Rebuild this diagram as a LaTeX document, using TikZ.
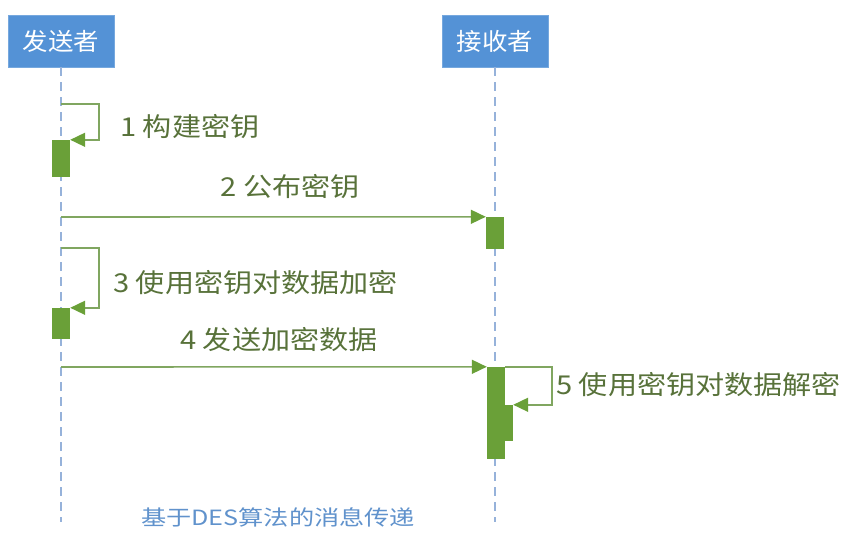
\documentclass[tikz,border=0pt]{standalone}
\usepackage{fontspec}
\setmainfont{Noto Sans CJK SC}
\newfontfamily\headfont{Noto Sans CJK SC}[FakeStretch=1.06]
\newfontfamily\msgfont{Noto Sans CJK SC}[FakeStretch=1.12]
\newfontfamily\capfont{Noto Sans CJK SC}[FakeStretch=1.2]
\usetikzlibrary{arrows.meta}
\definecolor{headblue}{RGB}{84,146,214}
\definecolor{lifeblue}{RGB}{150,178,218}
\definecolor{msggreen}{RGB}{128,166,96}
\definecolor{actgreen}{RGB}{106,160,56}
\definecolor{labelgreen}{RGB}{88,114,58}
\definecolor{capblue}{RGB}{96,146,204}

\begin{document}
\begin{tikzpicture}[x=1pt, y=-1pt,
    head/.style={fill=headblue, draw=headblue!80!white, minimum width=106pt, minimum height=52pt,
        text=white, font=\headfont\fontsize{24}{28}\selectfont},
    life/.style={lifeblue, line width=1.8pt, dash pattern=on 9pt off 6pt},
    act/.style={fill=actgreen, draw=none, inner sep=0pt, minimum width=18pt},
    msg/.style={msggreen, line width=1.6pt, -{Triangle[length=15pt, width=14pt, fill=actgreen, color=actgreen]}},
    msglabel/.style={labelgreen, inner sep=0pt, font=\msgfont\fontsize{26}{30}\selectfont}]
    \useasboundingbox (0,0) rectangle (849,535);

    % --- Lifeline heads ---
    \node[head] (snd) at (61, 41) {发送者};
    \node[head] (rcv) at (495, 41) {接收者};

    % Lifelines (dashed)
    \coordinate (sndend) at (61, 522);
    \coordinate (rcvend) at (495, 522);
    \draw[life] (snd.south) -- (sndend);
    \draw[life] (rcv.south) -- (rcvend);

    % --- Activation bars ---
    \node[act, minimum height=37pt] (a1) at (61, 158.5) {};
    \node[act, minimum height=32pt] (a2) at (495, 233) {};
    \node[act, minimum height=31pt] (a3) at (61, 323.5) {};
    \node[act, minimum height=92pt] (a4) at (496, 413) {};
    \node[act, minimum width=13pt, minimum height=36pt] (a5) at (506.5, 423) {};

    % --- Messages ---
    % 1: self call on sender
    \coordinate (s1) at (61, 104);
    \draw[msg] (s1) -- ++(38,0) |- (a1.north east);
    \node[msglabel, anchor=west] (l1) at (120, 127) {1 构建密钥};

    % 2: sender -> receiver
    \coordinate (s2) at (61, 217);
    \draw[msg] (s2) -- (a2.north west);
    \node[msglabel] (l2) at (290, 187) {2 公布密钥};

    % 3: self call on sender
    \coordinate (s3) at (61, 248);
    \draw[msg] (s3) -- ++(38,0) |- (a3.north east);
    \node[msglabel, anchor=west] (l3) at (113, 283) {3 使用密钥对数据加密};

    % 4: sender -> receiver
    \coordinate (s4) at (61, 367);
    \draw[msg] (s4) -- (a4.north west);
    \node[msglabel] (l4) at (279, 340) {4 发送加密数据};

    % 5: self call on receiver (nested bar)
    \draw[msg] (a4.north east) -- ++(47,0) |- (a5.north east);
    \node[msglabel, anchor=west] (l5) at (556, 385) {5 使用密钥对数据解密};

    % Caption
    \node[capblue, font=\capfont\fontsize{21}{24}\selectfont] (cap) at (278, 517) {基于DES算法的消息传递};
\end{tikzpicture}
\end{document}
